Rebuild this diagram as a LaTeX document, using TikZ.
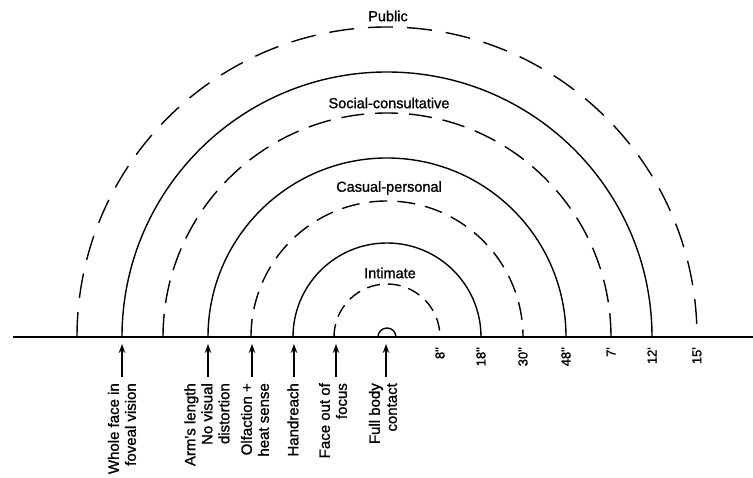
\documentclass[tikz,border=0pt]{standalone}
\usepackage{fontspec}
\setmainfont{Liberation Sans}
\newfontfamily\heavyfont{Liberation Sans}[FakeBold=1.2]
\usetikzlibrary{arrows.meta}
\begin{document}
\begin{tikzpicture}[x=1pt,y=1pt,
  ring/.style={line width=1.4pt},
  dring/.style={line width=1.4pt},
  zlabel/.style={font=\heavyfont\fontsize{14.5}{17}\selectfont, inner sep=0pt},
  vlabel/.style={rotate=90, anchor=east, align=right, font=\heavyfont\fontsize{15}{17}\selectfont, inner sep=0pt},
  dlabel/.style={rotate=90, anchor=east, font=\heavyfont\fontsize{13}{15}\selectfont, inner sep=0pt},
  uparrow/.style={-{Stealth[length=9pt,width=6.5pt]}, line width=1.2pt}]
\useasboundingbox (0,0) rectangle (753,478);
\coordinate (c) at (387,141);
\coordinate (L) at (13,141);
\coordinate (R) at (753,141);
\draw[ring] (L) -- (R);
% small semicircle
\draw[ring] ([xshift=-9pt]c) arc[start angle=180,end angle=0,radius=9pt];
% rings
\draw[dring, dash pattern=on 13pt off 8pt] ([xshift=-53pt]c) arc[start angle=180,end angle=0,radius=53pt];
\draw[ring] ([xshift=-94pt]c) arc[start angle=180,end angle=0,radius=94pt];
\draw[dring, dash pattern=on 18pt off 10pt] ([xshift=-136pt]c) arc[start angle=180,end angle=0,radius=136pt];
\draw[ring] ([xshift=-179pt]c) arc[start angle=180,end angle=0,radius=179pt];
\draw[dring, dash pattern=on 23pt off 11pt] ([xshift=-224pt]c) arc[start angle=180,end angle=0,radius=224pt];
\draw[ring] ([xshift=-265pt]c) arc[start angle=180,end angle=0,radius=265pt];
\draw[dring, dash pattern=on 25pt off 14pt] ([xshift=-310pt]c) arc[start angle=180,end angle=0,radius=310pt];
% zone labels
\node[zlabel] (zP) at (388,462) {Public};
\node[zlabel] (zS) at (389,375) {Social-consultative};
\node[zlabel] (zC) at (389,290) {Casual-personal};
\node[zlabel] (zI) at (390,205) {Intimate};
% distance labels
\node[dlabel] (d1) at (440,131) {8"};
\node[dlabel] (d2) at (481,131) {18"};
\node[dlabel] (d3) at (523,131) {30"};
\node[dlabel] (d4) at (566,131) {48"};
\node[dlabel] (d5) at (611,131) {7'};
\node[dlabel] (d6) at (652,131) {12'};
\node[dlabel] (d7) at (697,131) {15'};
% arrow points on baseline
\coordinate (pW) at (122,141);
\coordinate (pA) at (208,141);
\coordinate (pO) at (252,141);
\coordinate (pH) at (294,141);
\coordinate (pF) at (336,141);
\coordinate (pB) at (386,141);
\foreach \p in {pW,pA,pO,pH,pF,pB}{
  \draw[uparrow] ([yshift=-40pt]\p) -- ([yshift=-7pt]\p);
}
% vertical labels
\node[vlabel] (lW) at (122,95) {Whole face in\\foveal vision};
\node[vlabel] (lA) at (207,95) {Arm's length\\No visual\\distortion};
\node[vlabel] (lO) at (255,95) {Olfaction +\\heat sense};
\node[vlabel] (lH) at (293,95) {Handreach};
\node[vlabel] (lF) at (333,95) {Face out of\\focus};
\node[vlabel] (lB) at (383,95) {Full body\\contact};
\end{tikzpicture}
\end{document}
